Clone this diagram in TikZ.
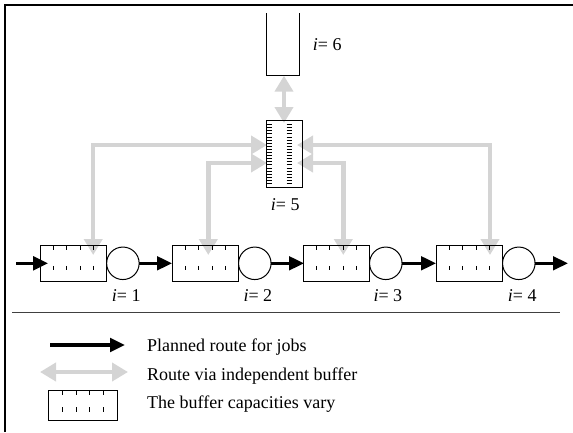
\documentclass[tikz,border=0pt]{standalone}
\usepackage{fontspec}
\setmainfont{Liberation Serif}
\usetikzlibrary{arrows.meta,calc}
\definecolor{routegray}{RGB}{212,212,212}
\tikzset{
  buf/.style={draw, line width=1pt, minimum width=66.5pt, minimum height=36.5pt, inner sep=0pt, outer sep=0pt},
  srv/.style={circle, draw, line width=1pt, minimum size=32.5pt, inner sep=0pt, outer sep=0pt},
  jobarrow/.style={line width=3.3pt, -{Triangle[length=15pt,width=13.5pt]}},
  altarrow/.style={color=routegray, line width=4.5pt, {Triangle[length=16pt,width=18pt]}-{Triangle[length=16pt,width=18pt]}},
  tickmark/.style={line width=0.8pt},
  lbl/.style={anchor=base west, inner sep=0pt, font=\fontsize{18}{20}\selectfont}
}
\begin{document}
\begin{tikzpicture}[x=1pt,y=-1pt]
\useasboundingbox (0,0) rectangle (573,432);
% frame
\draw[line width=2pt] (5,432) -- (5,5) -- (573,5);
% separator
\draw[line width=1pt, color=black!75] (12,312.7) -- (560,312.7);

% named points for grey routes
\coordinate (t1) at (93.2,255);
\coordinate (t2) at (208.3,255);
\coordinate (t3) at (343.3,255);
\coordinate (t4) at (490,255);
\coordinate (l5a) at (267,145);
\coordinate (l5b) at (267,163);
\coordinate (r5a) at (297,145);
\coordinate (r5b) at (297,163);
\coordinate (b6s) at (284,75.7);
\coordinate (b5n) at (284,123);

% grey routes (behind buffers)
\draw[altarrow] (t1) |- (l5a);
\draw[altarrow] (t2) |- (l5b);
\draw[altarrow] (r5a) -| (t4);
\draw[altarrow] (r5b) -| (t3);
\draw[altarrow] (b6s) -- (b5n);

% buffer i=6 (open top)
\draw[line width=1pt] (266,13) -- (266,75.7) -- (299,75.7) -- (299,13);
\node[lbl] (l6) at (312.7,50) {\itshape i\upshape= 6};

% buffer i=5
\node[draw, line width=1pt, minimum width=36.3pt, minimum height=66.7pt, inner sep=0pt, outer sep=0pt] (b5) at (284.2,154.3) {};
\foreach \k in {0,...,19} {
  \draw[tickmark] (266,124.5+\k*3.1) -- (272,124.5+\k*3.1);
  \draw[tickmark] (286.7,124.5+\k*3.1) -- (292,124.5+\k*3.1);
}
\node[lbl] (l5) at (270.7,210) {\itshape i\upshape= 5};

% bottom row buffers and servers
\node[buf] (b1) at (73.4,263.3) {};
\node[buf] (b2) at (205.3,263.3) {};
\node[buf] (b3) at (336.3,263.3) {};
\node[buf] (b4) at (469.3,263.3) {};
\foreach \b in {b1,b2,b3,b4} {
  \foreach \k in {1,...,4} {
    \draw[tickmark] ($(\b.north west)!\k/5!(\b.north east)$) -- ++(0,4.5);
    \draw[tickmark] ($(\b.west)!\k/5!(\b.east)+(0,2.5)$) -- ++(0,4.5);
  }
}
\node[srv, anchor=west] (c1) at (b1.east) {};
\node[srv, anchor=west] (c2) at (b2.east) {};
\node[srv, anchor=west] (c3) at (b3.east) {};
\node[srv, anchor=west] (c4) at (b4.east) {};

\coordinate (in) at (16,263.3);
\coordinate (out) at (568,263.3);
\draw[jobarrow] (in) -- ([xshift=8pt]b1.west);
\draw[jobarrow] (c1.east) -- (b2.west);
\draw[jobarrow] (c2.east) -- ([xshift=1pt]b3.west);
\draw[jobarrow] (c3.east) -- (b4.west);
\draw[jobarrow] (c4.east) -- (out);

\node[lbl] (l1) at (111.7,301) {\itshape i\upshape= 1};
\node[lbl] (l2) at (243.3,301) {\itshape i\upshape= 2};
\node[lbl] (l3) at (373.3,301) {\itshape i\upshape= 3};
\node[lbl] (l4) at (507.7,301) {\itshape i\upshape= 4};

% legend
\coordinate (ja) at (50,345);
\coordinate (jb) at (125,345);
\draw[jobarrow] (ja) -- (jb);
\coordinate (ga) at (40,372);
\coordinate (gb) at (128,372);
\draw[altarrow] (ga) -- (gb);
\node[draw, line width=1pt, minimum width=69pt, minimum height=30pt, inner sep=0pt, outer sep=0pt] (lb) at (82.8,405) {};
\foreach \k in {1,...,4} {
  \draw[tickmark] ($(lb.north west)!\k/5!(lb.north east)$) -- ++(0,4.5);
  \draw[tickmark] ($(lb.west)!\k/5!(lb.east)+(0,2)$) -- ++(0,4.5);
}
\node[lbl] (leg1) at (147,351) {Planned route for jobs};
\node[lbl] (leg2) at (147,380) {Route via independent buffer};
\node[lbl] (leg3) at (147,408) {The buffer capacities vary};
\end{tikzpicture}
\end{document}
